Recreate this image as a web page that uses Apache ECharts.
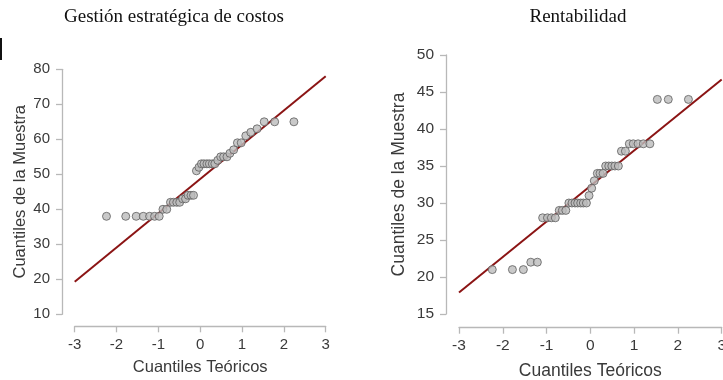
<!DOCTYPE html>
<html>
<head>
<meta charset="utf-8">
<script src="https://cdn.jsdelivr.net/npm/echarts@6/dist/echarts.min.js"></script>
<style>html,body{margin:0;padding:0;background:#fff}#c{width:723px;height:380px}</style>
</head>
<body>
<div id="c"></div>
<script>
// Panel titles
var titles = ['Gestión estratégica de costos', 'Rentabilidad'];
var xAxisTitle = 'Cuantiles Teóricos';
var yAxisTitle = 'Cuantiles de la Muestra';

// Theoretical quantiles (shared by both panels)
var theoQ = [-2.24, -1.78, -1.53, -1.36, -1.21, -1.09, -0.98, -0.89, -0.80, -0.71,
             -0.64, -0.56, -0.49, -0.42, -0.35, -0.29, -0.22, -0.16, -0.09, -0.03,
              0.03,  0.09,  0.16,  0.22,  0.29,  0.35,  0.42,  0.49,  0.56,  0.64,
              0.71,  0.80,  0.89,  0.98,  1.09,  1.21,  1.36,  1.53,  1.78,  2.24];

// Sample quantiles, panel 1 (Gestión estratégica de costos)
var sampleCostos = [38, 38, 38, 38, 38, 38, 38, 40, 40, 42,
                    42, 42, 42, 43, 43, 44, 44, 44, 51, 52,
                    53, 53, 53, 53, 53, 53, 54, 55, 55, 55,
                    56, 57, 59, 59, 61, 62, 63, 65, 65, 65];

// Sample quantiles, panel 2 (Rentabilidad)
var sampleRent = [21, 21, 21, 22, 22, 28, 28, 28, 28, 29,
                  29, 29, 30, 30, 30, 30, 30, 30, 30, 31,
                  32, 33, 34, 34, 34, 35, 35, 35, 35, 35,
                  37, 37, 38, 38, 38, 38, 38, 44, 44, 44];

// Reference lines (end points in data units)
var lineCostos = [[-3, 19.3], [3, 78.0]];
var lineRent = [[-3, 17.9], [3, 46.7]];

// Axis ticks
var xTicks = {min: -3, max: 3, interval: 1};
var yTicksCostos = {min: 10, max: 80, interval: 10};
var yTicksRent = {min: 15, max: 50, interval: 5};

function pairs(xs, ys) { return xs.map(function (x, i) { return [x, ys[i]]; }); }

var axisGray = '#b8b8b8';
var labelCol = '#3a3a3a';
var sans = 'Liberation Sans, Arial, sans-serif';

function xAx(idx, ticks, off, fs, nameFs, gap, margin) {
  return {
    gridIndex: idx, type: 'value', min: ticks.min, max: ticks.max, interval: ticks.interval,
    offset: off, position: 'bottom',
    axisLine: {show: true, onZero: false, lineStyle: {color: axisGray, width: 1.3}},
    axisTick: {show: true, inside: false, length: 6, lineStyle: {color: axisGray, width: 1.3}},
    splitLine: {show: false},
    axisLabel: {color: labelCol, fontSize: fs, fontFamily: sans, margin: margin, hideOverlap: false},
    name: xAxisTitle, nameLocation: 'middle', nameGap: gap,
    nameTextStyle: {color: labelCol, fontSize: nameFs, fontFamily: sans}
  };
}
function yAx(idx, ticks, off, fs, nameFs, gap) {
  return {
    gridIndex: idx, type: 'value', min: ticks.min, max: ticks.max, interval: ticks.interval,
    offset: off, position: 'left',
    axisLine: {show: true, onZero: false, lineStyle: {color: axisGray, width: 1.3}},
    axisTick: {show: true, inside: false, length: 6, lineStyle: {color: axisGray, width: 1.3}},
    splitLine: {show: false},
    axisLabel: {color: labelCol, fontSize: fs, fontFamily: sans, margin: 12},
    name: yAxisTitle, nameLocation: 'middle', nameGap: gap, nameRotate: 90,
    nameTextStyle: {color: labelCol, fontSize: nameFs, fontFamily: sans}
  };
}

var pointStyle = {color: '#bcbcbc', borderColor: '#5e5e5e', borderWidth: 1};
var lineStyle = {color: '#8b1414', width: 2};
var serifFont = '19px "Liberation Serif", "Times New Roman", serif';

var chart = echarts.init(document.getElementById('c'), null, {renderer: 'canvas'});
chart.setOption({
  animation: false,
  backgroundColor: '#ffffff',
  grid: [
    {left: 74.7, top: 69.3, width: 251, height: 245, outerBoundsMode: 'none', containLabel: false},
    {left: 459, top: 55, width: 262.7, height: 259, outerBoundsMode: 'none', containLabel: false}
  ],
  xAxis: [
    xAx(0, xTicks, 12, 15, 16.5, 33, 11),
    xAx(1, xTicks, 13.7, 15.5, 17.5, 34, 10)
  ],
  yAxis: [
    yAx(0, yTicksCostos, 12.7, 15, 16.5, 32),
    yAx(1, yTicksRent, 13, 15.5, 17.5, 38)
  ],
  graphic: [
    {type: 'text', x: 174, y: 17, style: {text: titles[0], font: serifFont, fill: '#111', align: 'center', verticalAlign: 'middle'}},
    {type: 'rect', shape: {x: 0, y: 38, width: 2, height: 22}, style: {fill: '#111'}},
    {type: 'text', x: 578, y: 17, style: {text: titles[1], font: serifFont, fill: '#111', align: 'center', verticalAlign: 'middle'}}
  ],
  series: [
    {type: 'line', xAxisIndex: 0, yAxisIndex: 0, data: lineCostos, symbol: 'none', lineStyle: lineStyle, z: 2, silent: true},
    {type: 'scatter', xAxisIndex: 0, yAxisIndex: 0, data: pairs(theoQ, sampleCostos), symbolSize: 8, itemStyle: pointStyle, z: 3},
    {type: 'line', xAxisIndex: 1, yAxisIndex: 1, data: lineRent, symbol: 'none', lineStyle: lineStyle, z: 2, silent: true},
    {type: 'scatter', xAxisIndex: 1, yAxisIndex: 1, data: pairs(theoQ, sampleRent), symbolSize: 8, itemStyle: pointStyle, z: 3}
  ]
});
</script>
</body>
</html>
